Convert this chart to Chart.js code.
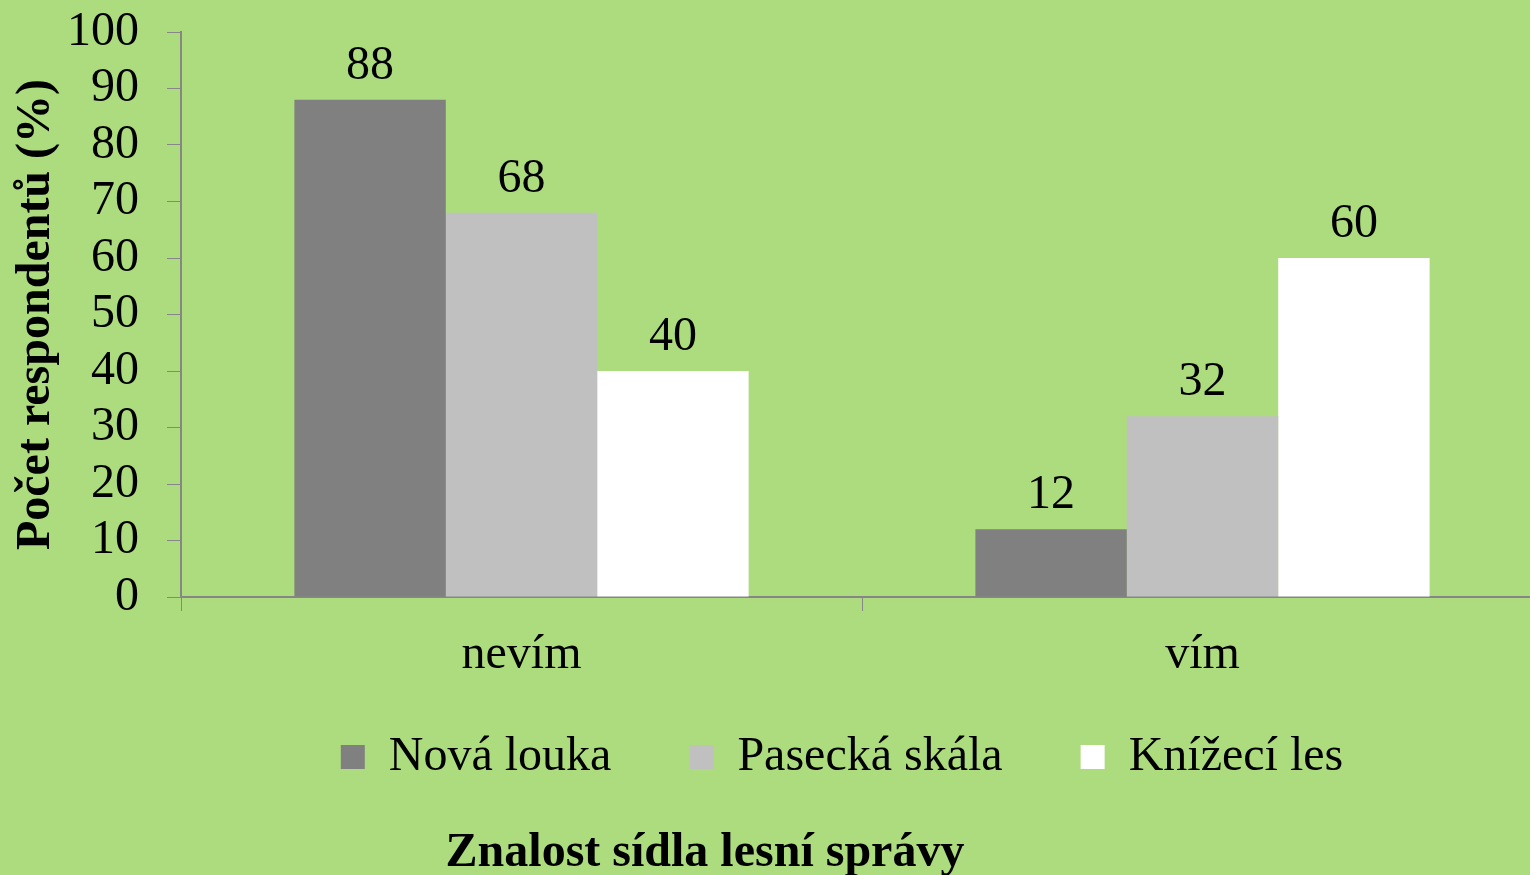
<!DOCTYPE html>
<html>
<head>
<meta charset="utf-8">
<script src="https://cdn.jsdelivr.net/npm/chart.js@4.4.0/dist/chart.umd.min.js"></script>
<style>
    html, body { margin: 0; padding: 0; overflow: hidden; background: #addc7e; }
    #wrap { width: 1543px; height: 875px; position: relative; }
</style>
</head>
<body>
<div id="wrap"><canvas id="chart"></canvas></div>
<script>
// Data
const categories = ['nevím', 'vím'];
const seriesNames = ['Nová louka', 'Pasecká skála', 'Knížecí les'];
const novaLouka = [88, 12];
const paseckaSkala = [68, 32];
const kniteciLes = [40, 60];
const seriesColors = ['#808080', '#c0c0c0', '#ffffff'];

const yTitle = 'Počet respondentů (%)';
const xTitle = 'Znalost sídla lesní správy';

const FONT = '"Liberation Serif", "Times New Roman", serif';
const axisGrey = '#868686';

// Draw the value above each bar
const valueLabels = {
    id: 'valueLabels',
    afterDatasetsDraw(chart) {
        const ctx = chart.ctx;
        ctx.save();
        ctx.font = '48px ' + FONT;
        ctx.fillStyle = '#000';
        ctx.textAlign = 'center';
        ctx.textBaseline = 'alphabetic';
        chart.data.datasets.forEach((ds, i) => {
            chart.getDatasetMeta(i).data.forEach((bar, j) => {
                ctx.fillText(String(ds.data[j]), bar.x, bar.y - 21);
            });
        });
        ctx.restore();
    }
};

// Bottom title (sits under the legend, like the original)
const bottomTitle = {
    id: 'bottomTitle',
    afterDraw(chart) {
        const ctx = chart.ctx;
        ctx.save();
        ctx.font = 'bold 48px ' + FONT;
        ctx.fillStyle = '#000';
        ctx.textAlign = 'center';
        ctx.textBaseline = 'alphabetic';
        ctx.fillText(xTitle, 705, 866);
        ctx.restore();
    }
};

const ctx = document.getElementById('chart').getContext('2d');
const chart = new Chart(ctx, {
    type: 'bar',
    data: {
        labels: categories,
        datasets: [
            { label: seriesNames[0], data: novaLouka, backgroundColor: seriesColors[0] },
            { label: seriesNames[1], data: paseckaSkala, backgroundColor: seriesColors[1] },
            { label: seriesNames[2], data: kniteciLes, backgroundColor: seriesColors[2] }
        ]
    },
    options: {
        responsive: true,
        maintainAspectRatio: false,
        animation: false,
        datasets: {
            bar: {
                barPercentage: 1,
                categoryPercentage: 0.667,
                borderWidth: 0
            }
        },
        layout: {
            // left padding moves the full-width legend to where the original has it
            padding: { top: 32, left: 141, right: 0, bottom: 84 }
        },
        plugins: {
            legend: {
                display: true,
                position: 'bottom',
                fullSize: true,
                labels: {
                    font: { family: FONT, size: 48 },
                    color: '#000',
                    boxWidth: 24,
                    boxHeight: 24,
                    padding: 78
                }
            },
            tooltip: { enabled: false },
            title: { display: false }
        },
        scales: {
            x: {
                // keep the axis box short so the legend sits close under the labels
                afterFit(scale) {
                    scale.height = 58;
                },
                grid: {
                    offset: true,
                    drawOnChartArea: false,
                    drawTicks: true,
                    tickLength: 14,
                    color: axisGrey
                },
                border: { color: axisGrey, width: 2 },
                ticks: {
                    mirror: true,
                    font: { family: FONT, size: 48 },
                    color: '#000',
                    padding: -86.8
                }
            },
            y: {
                min: 0,
                max: 100,
                afterFit(scale) {
                    scale.width = 40;
                    scale.paddingTop = 0;
                    scale.paddingBottom = 0;
                },
                ticks: {
                    stepSize: 10,
                    autoSkip: false,
                    mirror: true,
                    crossAlign: 'far',
                    font: { family: FONT, size: 48 },
                    color: '#000',
                    padding: -114
                },
                grid: {
                    drawOnChartArea: false,
                    drawTicks: true,
                    tickLength: 14,
                    color: axisGrey
                },
                border: { color: axisGrey, width: 2 },
                title: {
                    display: true,
                    text: yTitle,
                    font: { family: FONT, size: 48, weight: 'bold' },
                    color: '#000',
                    padding: { top: -132.8, bottom: 0 }
                }
            }
        }
    },
    plugins: [valueLabels, bottomTitle]
});
</script>
</body>
</html>
